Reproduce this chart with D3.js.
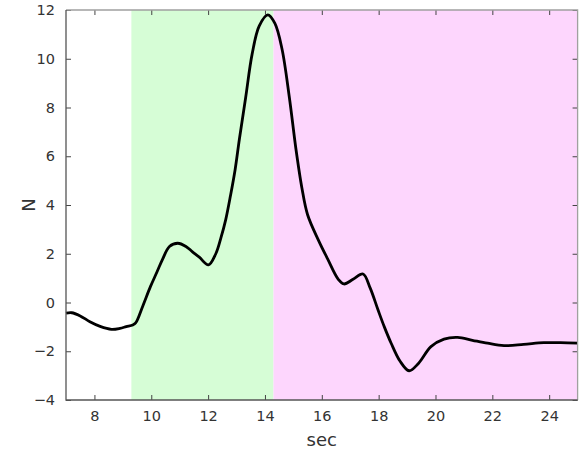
<!DOCTYPE html>
<html>
<head>
<meta charset="utf-8">
<script src="https://cdn.jsdelivr.net/npm/d3@7"></script>
<style>
  body { margin: 0; background: #fff; }
  text { font-family: "DejaVu Sans", sans-serif; }
</style>
</head>
<body>
<div id="chart"></div>
<script>
// force samples
const secs = [7.0, 7.2, 7.5, 7.84, 8.2, 8.6, 8.9, 9.12, 9.35, 9.45, 9.7, 9.97, 10.2, 10.4, 10.64, 10.93,
    11.22, 11.45, 11.69, 12.01, 12.27, 12.45, 12.62, 12.79, 12.95, 13.1, 13.32, 13.55, 13.8, 14.1,
    14.35, 14.6, 14.86, 15.09, 15.3, 15.5, 15.88, 16.2, 16.58, 16.78, 17.1, 17.45, 17.7, 17.98,
    18.2, 18.44, 18.75, 19.07, 19.4, 19.84, 20.3, 20.78, 21.3, 21.83, 22.41, 23.1, 23.81, 24.4, 25.0];
const force = [-0.44, -0.42, -0.55, -0.79, -0.98, -1.10, -1.06, -0.99, -0.92, -0.84, -0.15, 0.65, 1.25, 1.78, 2.3, 2.43,
    2.3, 2.08, 1.86, 1.54, 2.0, 2.65, 3.4, 4.4, 5.45, 6.7, 8.4, 10.2, 11.35, 11.8,
    11.45, 10.4, 8.4, 6.3, 4.7, 3.6, 2.56, 1.8, 0.95, 0.76, 0.95, 1.17, 0.6, -0.31,
    -1.0, -1.67, -2.4, -2.80, -2.5, -1.81, -1.5, -1.43, -1.55, -1.67, -1.77, -1.72, -1.65, -1.65, -1.67];

// shaded phases
const phases = [
    { start: 9.3, end: 14.3, color: "#d6fdd6" },
    { start: 14.3, end: 25, color: "#fdd6fd" }
];

const xTicks = [8, 10, 12, 14, 16, 18, 20, 22, 24];
const yTicks = [-4, -2, 0, 2, 4, 6, 8, 10, 12];

const width = 582, height = 453;
const margin = { top: 10, right: 4.4, bottom: 53, left: 66 };

const svg = d3.select("#chart").append("svg")
    .attr("width", width)
    .attr("height", height);

const x = d3.scaleLinear().domain([7, 25]).range([margin.left, width - margin.right]);
const y = d3.scaleLinear().domain([-4, 12]).range([height - margin.bottom, margin.top]);

svg.selectAll("rect.phase")
    .data(phases)
    .enter()
    .append("rect")
    .attr("class", "phase")
    .attr("x", d => x(d.start))
    .attr("y", y(12))
    .attr("width", d => x(d.end) - x(d.start))
    .attr("height", y(-4) - y(12))
    .attr("fill", d => d.color);

const data = secs.map((s, i) => [s, force[i]]);

const line = d3.line()
    .x(d => x(d[0]))
    .y(d => y(d[1]))
    .curve(d3.curveCatmullRom.alpha(0.5));

svg.append("path")
    .datum(data)
    .attr("d", line)
    .attr("fill", "none")
    .attr("stroke", "#000")
    .attr("stroke-width", 2.8)
    .attr("stroke-linejoin", "round");

// axes, ticks pointing inward
const tickStyle = g => {
    g.select(".domain").remove();
    g.selectAll(".tick line").attr("stroke", "#444");
    g.selectAll(".tick text").attr("fill", "#333").style("font-size", "14.5px");
};

svg.append("g")
    .attr("transform", `translate(0,${y(-4)})`)
    .call(d3.axisBottom(x).tickValues(xTicks).tickSizeInner(-5).tickSizeOuter(0).tickPadding(11))
    .call(tickStyle);

svg.append("g")
    .attr("transform", `translate(${x(7)},0)`)
    .call(d3.axisLeft(y).tickValues(yTicks).tickSizeInner(-5).tickSizeOuter(0).tickPadding(11))
    .call(tickStyle);

svg.append("g")
    .attr("transform", `translate(0,${y(12)})`)
    .call(d3.axisTop(x).tickValues(xTicks).tickSizeInner(-5).tickSizeOuter(0).tickFormat(""))
    .call(tickStyle);

svg.append("g")
    .attr("transform", `translate(${x(25)},0)`)
    .call(d3.axisRight(y).tickValues(yTicks).tickSizeInner(-5).tickSizeOuter(0).tickFormat(""))
    .call(tickStyle);

// box
svg.append("path")
    .attr("d", `M${x(7)},${y(12)}H${x(25)}V${y(-4)}`)
    .attr("fill", "none")
    .attr("stroke", "#a0a0a0")
    .attr("stroke-width", 1.3);
svg.append("path")
    .attr("d", `M${x(7)},${y(12)}V${y(-4)}H${x(25)}`)
    .attr("fill", "none")
    .attr("stroke", "#555")
    .attr("stroke-width", 1.3);

svg.append("text")
    .attr("x", (x(7) + x(25)) / 2)
    .attr("y", 446)
    .attr("text-anchor", "middle")
    .attr("fill", "#333")
    .style("font-size", "18px")
    .text("sec");

svg.append("text")
    .attr("transform", `translate(35,${(y(12) + y(-4)) / 2}) rotate(-90)`)
    .attr("text-anchor", "middle")
    .attr("fill", "#333")
    .style("font-size", "18px")
    .text("N");
</script>
</body>
</html>
